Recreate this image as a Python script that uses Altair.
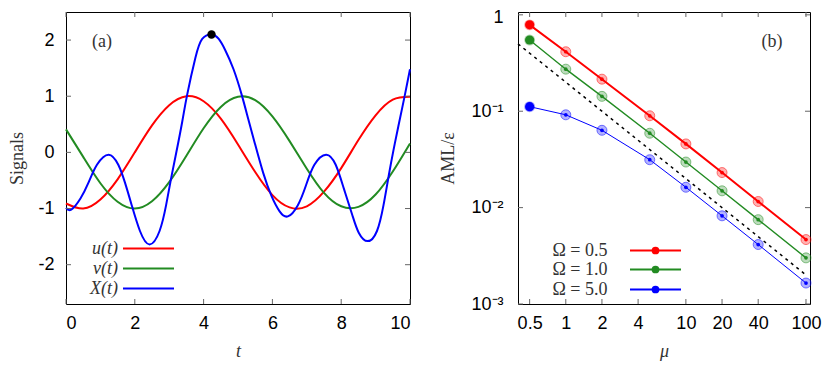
import altair as alt
import pandas as pd

# ---------------- panel (a): signals ----------------
u_t = [0, 0.5, 1.0, 1.5, 2.0, 2.5, 3.0, 3.5, 4.0, 4.5, 5.0, 5.5, 6.0, 6.5, 7.0, 7.5, 8.0, 8.5, 9.0, 9.5, 10]
u_val = [-0.91, -1.0, -0.84, -0.48, 0.0, 0.48, 0.84, 1.0, 0.91, 0.60, 0.14, -0.35, -0.76, -0.98, -0.96, -0.70, -0.28, 0.22, 0.66, 0.94, 0.99]

v_t = [0, 0.5, 1.0, 1.5, 2.0, 2.5, 3.0, 3.5, 4.0, 4.5, 5.0, 5.5, 6.0, 6.5, 7.0, 7.5, 8.0, 8.5, 9.0, 9.5, 10]
v_val = [0.41, -0.08, -0.55, -0.88, -1.0, -0.87, -0.53, -0.06, 0.43, 0.81, 0.99, 0.93, 0.64, 0.20, -0.29, -0.72, -0.96, -0.97, -0.75, -0.34, 0.16]

x_t = [0, 0.15, 0.42, 0.66, 0.90, 1.24, 1.52, 1.71, 1.91, 2.15, 2.43, 2.72, 2.91, 3.05, 3.20, 3.38,
       3.52, 3.76, 3.96, 4.23, 4.44, 4.63, 4.87, 5.11, 5.30, 5.49, 5.73, 5.97, 6.21, 6.45, 6.74, 6.98,
       7.22, 7.56, 7.84, 8.08, 8.32, 8.51, 8.77, 9.04, 9.23, 9.38, 9.52, 9.66, 9.85, 10]
x_val = [-0.99, -1.02, -0.82, -0.53, -0.22, -0.04, -0.22, -0.53, -0.94, -1.40, -1.64, -1.40, -0.94, -0.48, -0.02, 0.55,
         1.02, 1.68, 2.02, 2.10, 2.02, 1.82, 1.48, 1.02, 0.59, 0.16, -0.36, -0.77, -1.05, -1.14, -0.94, -0.58,
         -0.22, -0.04, -0.22, -0.65, -1.11, -1.43, -1.58, -1.40, -0.94, -0.42, 0.04, 0.46, 1.02, 1.48]

peak_t = [4.23]
peak_val = [2.10]

xa_ticks = [0, 2, 4, 6, 8, 10]
ya_ticks = [-2, -1, 0, 1, 2]
legend_a = ["u(t)", "v(t)", "X(t)"]
colors = ["#ff0000", "#228b22", "#0000ff"]

# ---------------- panel (b): AML / epsilon ----------------
mu = [0.5, 1, 2, 5, 10, 20, 40, 100]
aml_05 = [0.787, 0.414, 0.215, 0.0897, 0.0458, 0.0231, 0.01157, 0.00466]
aml_10 = [0.548, 0.273, 0.1426, 0.0591, 0.0297, 0.01494, 0.0075, 0.00301]
aml_50 = [0.1115, 0.0918, 0.0634, 0.0314, 0.01626, 0.00822, 0.00414, 0.00165]
omega_labels = ["Ω = 0.5", "Ω = 1.0", "Ω = 5.0"]
ref_mu = [0.4, 100]
ref_aml = [0.5, 0.002]
xb_ticks = [0.5, 1, 2, 4, 10, 20, 40, 100]
yb_ticks = [0.001, 0.01, 0.1, 1]

# ---------------- layout / style ----------------
W1, W2, H = 344, 292, 292
TICK = 5
TICK_COLOR = "#666666"
TEXT_COLOR = "#333333"
SERIF = "Liberation Serif"
SANS = "Liberation Sans"

# ================= panel (a) =================
xs_a = alt.Scale(domain=[0, 10], nice=False, zero=False)
ys_a = alt.Scale(domain=[-2.7, 2.5], nice=False, zero=False)
x_axis_a = alt.Axis(values=xa_ticks, title="t", titleFontStyle="italic",
                    labelPadding=10, titlePadding=10, labelExpr="datum.value + ''")
y_axis_a = alt.Axis(values=ya_ticks, title="Signals", labelPadding=12, titlePadding=11,
                    labelExpr="datum.value + ''")


def xa(field="t"):
    return alt.X(f"{field}:Q", scale=xs_a, axis=x_axis_a)


def ya(field="val"):
    return alt.Y(f"{field}:Q", scale=ys_a, axis=y_axis_a)


layers_a = []
series_a = [(u_t, u_val), (v_t, v_val), (x_t, x_val)]
for i, (tt, vv) in enumerate(series_a):
    df = pd.DataFrame({"t": tt, "val": vv})
    layers_a.append(
        alt.Chart(df).mark_line(color=colors[i], strokeWidth=2, interpolate="natural").encode(
            x=xa(), y=ya()
        )
    )

peak_df = pd.DataFrame({"t": peak_t, "val": peak_val})
layers_a.append(
    alt.Chart(peak_df).mark_circle(color="black", size=70, opacity=1).encode(x=xa(), y=ya())
)

xt_a = pd.DataFrame({"t": xa_ticks})
yt_a = pd.DataFrame({"val": ya_ticks})
for y0, y1 in [(H, H - TICK), (0, TICK)]:
    layers_a.append(
        alt.Chart(xt_a).mark_rule(color=TICK_COLOR, strokeWidth=1).encode(
            x=xa(), y=alt.value(y0), y2=alt.value(y1)
        )
    )
for x0, x1 in [(0, TICK), (W1, W1 - TICK)]:
    layers_a.append(
        alt.Chart(yt_a).mark_rule(color=TICK_COLOR, strokeWidth=1).encode(
            y=ya(), x=alt.value(x0), x2=alt.value(x1)
        )
    )

leg_a_y = [H - 55.5, H - 35.5, H - 15.5]
for i, lab in enumerate(legend_a):
    ldf = pd.DataFrame({"label": [lab]})
    layers_a.append(
        alt.Chart(ldf).mark_text(align="right", baseline="middle", font=SERIF, fontStyle="italic",
                                 fontSize=18, color=TEXT_COLOR).encode(
            text="label:N", x=alt.value(52), y=alt.value(leg_a_y[i])
        )
    )
    layers_a.append(
        alt.Chart(ldf).mark_rule(color=colors[i], strokeWidth=2.2).encode(
            x=alt.value(57), x2=alt.value(108), y=alt.value(leg_a_y[i])
        )
    )

layers_a.append(
    alt.Chart(pd.DataFrame({"label": ["(a)"]})).mark_text(
        align="center", baseline="middle", font=SERIF, fontSize=18, color=TEXT_COLOR
    ).encode(text="label:N", x=alt.value(36), y=alt.value(30))
)

left = alt.layer(*layers_a).properties(width=W1, height=H)

# ================= panel (b) =================
xs_b = alt.Scale(type="log", domain=[0.4, 108], nice=False)
ys_b = alt.Scale(type="log", domain=[0.001, 1.07], nice=False)
x_axis_b = alt.Axis(values=xb_ticks, title="μ", titleFontStyle="italic",
                    labelPadding=10, titlePadding=10, labelExpr="datum.value + ''")
y_axis_b = alt.Axis(
    values=yb_ticks, title="AML/ε", labelPadding=15, titlePadding=13,
    labelExpr="datum.value >= 0.9 ? '1' : '10' + (datum.value >= 0.09 ? '⁻¹' : (datum.value >= 0.009 ? '⁻²' : '⁻³'))",
    labelOffset={"condition": {"test": "datum.value >= 0.9", "value": 3}, "value": 0},
)


def xb(field="mu"):
    return alt.X(f"{field}:Q", scale=xs_b, axis=x_axis_b)


def yb(field="aml"):
    return alt.Y(f"{field}:Q", scale=ys_b, axis=y_axis_b)


layers_b = []
ref_df = pd.DataFrame({"mu": ref_mu, "aml": ref_aml})
layers_b.append(
    alt.Chart(ref_df).mark_line(color="black", strokeWidth=1.5, strokeDash=[3, 4]).encode(
        x=xb(), y=yb()
    )
)

line_widths_b = [2, 1.4, 1]
for i, vals in enumerate([aml_05, aml_10, aml_50]):
    df = pd.DataFrame({"mu": mu, "aml": vals})
    base = alt.Chart(df)
    layers_b.append(base.mark_line(color=colors[i], strokeWidth=line_widths_b[i]).encode(x=xb(), y=yb()))
    rest = base.transform_filter("datum.mu > 0.6")
    layers_b.append(rest.mark_circle(color=colors[i], size=100, opacity=0.3).encode(x=xb(), y=yb()))
    layers_b.append(rest.mark_point(color=colors[i], size=100, opacity=0.5, strokeWidth=1,
                                    filled=False).encode(x=xb(), y=yb()))
    layers_b.append(rest.mark_circle(color=colors[i], size=14, opacity=1).encode(x=xb(), y=yb()))
    firstp = base.transform_filter("datum.mu < 0.6")
    layers_b.append(firstp.mark_circle(color=colors[i], size=120, opacity=0.35).encode(x=xb(), y=yb()))
    layers_b.append(firstp.mark_circle(color=colors[i], size=85, opacity=1).encode(x=xb(), y=yb()))

xt_b = pd.DataFrame({"mu": xb_ticks})
yt_b = pd.DataFrame({"aml": yb_ticks})
for y0, y1 in [(H, H - TICK), (0, TICK)]:
    layers_b.append(
        alt.Chart(xt_b).mark_rule(color=TICK_COLOR, strokeWidth=1).encode(
            x=xb(), y=alt.value(y0), y2=alt.value(y1)
        )
    )
for x0, x1 in [(0, TICK), (W2, W2 - TICK)]:
    layers_b.append(
        alt.Chart(yt_b).mark_rule(color=TICK_COLOR, strokeWidth=1).encode(
            y=yb(), x=alt.value(x0), x2=alt.value(x1)
        )
    )

leg_b_y = [H - 53.5, H - 34.5, H - 14.5]
for i, lab in enumerate(omega_labels):
    ldf = pd.DataFrame({"label": [lab]})
    layers_b.append(
        alt.Chart(ldf).mark_text(align="center", baseline="middle", font=SERIF, fontSize=18,
                                 color=TEXT_COLOR).encode(
            text="label:N", x=alt.value(62), y=alt.value(leg_b_y[i])
        )
    )
    layers_b.append(
        alt.Chart(ldf).mark_rule(color=colors[i], strokeWidth=2.2).encode(
            x=alt.value(112), x2=alt.value(163), y=alt.value(leg_b_y[i])
        )
    )
    layers_b.append(
        alt.Chart(ldf).mark_circle(color=colors[i], size=60, opacity=1).encode(
            x=alt.value(137.5), y=alt.value(leg_b_y[i])
        )
    )

layers_b.append(
    alt.Chart(pd.DataFrame({"label": ["(b)"]})).mark_text(
        align="center", baseline="middle", font=SERIF, fontSize=18, color=TEXT_COLOR
    ).encode(text="label:N", x=alt.value(W2 - 38), y=alt.value(30))
)

right = alt.layer(*layers_b).properties(width=W2, height=H)

chart = (
    alt.hconcat(left, right, spacing=24)
    .properties(padding=0)
    .configure_view(stroke="black", strokeWidth=1)
    .configure_axis(
        grid=False, ticks=False, domain=False,
        labelFont=SANS, labelFontSize=18, labelColor="black",
        titleFont=SERIF, titleFontSize=18, titleFontWeight="normal", titleColor=TEXT_COLOR,
    )
)

chart.save("out.html", embed_options={"renderer": "svg", "actions": False})
